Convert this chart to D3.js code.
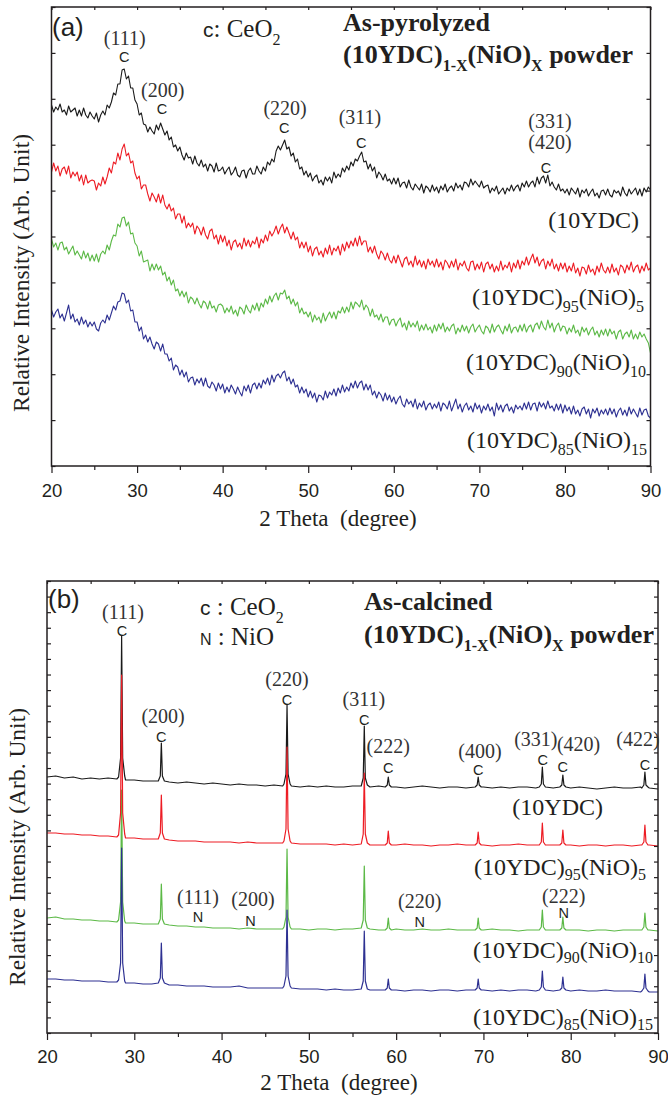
<!DOCTYPE html>
<html>
<head>
<meta charset="utf-8">
<script src="https://cdn.jsdelivr.net/npm/d3@7/dist/d3.min.js"></script>
<style>
  body { margin: 0; background: #fff; }
  svg { display: block; }
</style>
</head>
<body>
<svg id="chart" width="668" height="1098"></svg>
<script>
// ---------- (a) as-pyrolyzed: 2theta 20..90, step 0.25 deg (offset, arb. units) ----------
const pyroStart = 20, pyroStep = 0.25;

const pyro10YDC = [
  361,354,359,356,362,354,356,351,360,354,356,358,350,356,350,358,351,348,354,350,
  347,353,344,351,355,351,361,358,364,373,371,382,382,396,397,387,390,378,378,366,
  362,351,353,342,341,334,339,335,332,341,336,343,337,331,335,326,329,319,321,315,
  319,311,306,313,308,309,302,310,303,300,306,299,302,295,302,300,294,303,295,296,
  299,292,296,299,291,294,299,291,289,295,296,288,295,298,292,292,300,295,292,299,
  295,304,301,307,304,315,320,316,321,326,317,319,310,313,304,307,297,299,291,295,
  289,293,285,289,291,283,286,281,289,285,289,283,294,288,292,289,298,294,300,296,
  304,300,307,305,310,314,304,305,297,302,295,299,288,294,291,286,292,285,287,282,
  288,282,288,279,283,284,278,286,279,276,282,279,276,282,273,280,278,274,281,275,
  279,273,280,276,282,274,278,280,275,283,278,281,276,284,283,279,287,281,285,282,
  279,285,278,280,281,273,278,275,280,272,275,278,272,278,275,281,275,279,281,275,
  283,279,285,279,283,285,279,289,282,288,290,283,291,280,284,279,276,282,275,277,
  273,277,271,278,275,272,278,269,276,273,277,270,274,277,270,273,268,275,276,271,
  277,271,269,276,273,275,270,279,273,270,277,272,275,278,271,277,270,278,274,279,
  276
];
const pyroNiO5 = [
  294,303,295,300,290,297,299,292,300,288,294,290,294,285,291,281,291,283,285,286,
  285,276,283,280,289,282,289,298,293,304,302,313,306,317,322,310,313,303,305,293,
  287,290,277,281,281,272,265,273,269,264,272,263,271,261,257,262,255,258,247,252,
  252,243,250,238,243,239,243,232,240,237,231,239,231,227,235,237,227,231,222,231,
  224,230,220,226,216,224,226,219,223,217,228,220,226,219,225,222,229,218,227,223,
  231,225,235,230,234,240,232,238,242,233,239,233,227,234,226,229,218,224,218,224,
  214,220,210,217,219,211,215,209,218,212,221,211,218,215,220,211,222,215,224,218,
  225,220,228,220,230,221,225,225,214,219,213,220,212,207,215,212,206,213,206,203,
  210,203,211,205,199,207,209,201,205,199,210,201,206,199,205,197,207,201,205,199,
  207,199,204,196,206,203,198,205,199,207,196,203,200,205,198,195,204,205,196,202,
  197,204,194,202,204,197,202,194,200,195,205,196,201,198,204,194,203,198,206,197,
  205,201,209,201,207,212,203,209,200,205,207,197,205,200,207,197,202,195,203,197,
  203,194,200,195,203,193,198,190,199,198,192,201,194,197,191,200,194,203,196,193,
  199,193,202,194,198,191,201,199,193,201,196,204,194,199,201,193,200,195,203,196,
  198
];
const pyroNiO10 = [
  227,219,223,216,223,224,216,219,212,216,220,211,215,211,207,215,208,213,205,211,
  205,212,204,212,215,212,221,216,225,231,230,242,239,248,249,240,244,232,233,223,
  220,210,215,204,205,206,195,202,196,202,196,200,191,194,185,189,181,186,175,177,
  170,175,169,174,163,169,167,162,168,162,158,165,163,157,165,158,160,154,161,162,
  160,153,158,154,160,152,156,150,159,157,152,161,156,153,161,156,163,155,163,159,
  167,162,170,164,170,173,166,173,172,176,167,170,162,167,160,164,153,158,152,154,
  149,154,144,151,146,149,143,153,145,150,154,148,154,147,155,153,159,153,159,154,
  164,157,164,162,159,166,156,161,158,150,157,149,151,146,152,144,149,149,141,146,
  147,140,145,148,139,143,136,145,139,143,139,145,135,141,136,142,136,139,133,141,
  135,142,137,143,134,139,135,140,142,132,138,134,141,135,140,133,139,142,134,138,
  141,135,132,140,138,133,142,134,139,141,136,132,140,135,142,133,138,139,134,141,
  135,142,134,139,141,134,141,143,137,145,139,136,146,138,143,134,140,143,135,140,
  139,132,138,134,141,133,136,130,139,134,138,131,136,139,131,135,129,136,131,137,
  130,137,132,135,127,134,136,127,132,134,129,136,127,132,127,134,129,132,127,123,
  113
];
const pyroNiO15 = [
  156,149,154,157,148,152,145,153,161,147,152,144,147,141,149,142,146,139,144,140,
  144,137,135,143,146,143,151,146,153,160,156,164,165,173,172,163,166,155,156,144,
  144,135,139,127,131,124,129,122,117,124,122,115,122,112,112,105,108,96,101,99,
  91,96,89,94,84,88,89,81,87,83,88,80,88,80,78,84,81,75,83,77,
  82,73,79,74,81,77,72,79,74,70,80,75,81,73,81,83,77,83,78,86,
  82,88,81,91,84,90,92,88,93,95,85,89,82,87,79,81,73,79,73,77,
  69,75,68,73,64,71,70,66,75,68,74,71,77,70,78,73,81,74,79,75,
  83,78,85,78,83,85,76,82,76,81,71,75,68,74,71,65,73,66,71,64,
  69,62,67,70,62,59,67,62,65,59,67,57,63,59,65,56,61,63,57,62,
  58,64,55,63,61,57,65,55,61,67,57,62,54,60,63,56,60,54,63,57,
  61,53,60,56,62,55,59,50,63,56,61,54,60,62,55,59,53,61,57,60,
  56,63,57,64,56,62,63,55,64,59,63,57,65,58,60,55,62,56,62,53,
  61,55,59,52,60,52,56,50,57,59,52,57,48,57,53,58,50,56,52,57,
  51,58,52,57,49,55,58,51,56,50,59,52,57,53,49,58,51,56,57,50,
  48
];

// ---------- (b) as-calcined ----------
const calcTheta = [
  20,21,22,23,24,25,26,27,28, 28.2,28.43,28.55,28.67,28.9,
  29,30,31,32, 32.75,32.98,33.1,33.22,33.45,
  34,35,36,37,38,39,40,41,42,43,44,45,46,47, 47.15,47.38,47.5,47.62,47.85,
  48,49,50,51,52,53,54,55, 56,56.23,56.35,56.47,56.7,
  57,58, 58.75,58.98,59.1,59.22,59.45,
  60,61,62,63,64,65,66,67,68, 69.05,69.28,69.4,69.52,69.75,
  70,71,72,73,74,75,76, 76.4,76.63,76.75,76.87,77.1,
  78, 78.75,78.98,79.1,79.22,79.45,
  80,81,82,83,84,85,86,87,88, 88.15,88.38,88.5,88.62,88.85,
  89,90
];
const calc10YDC = [
  256,257,255,256,254,255,254,255,254, 256,275,397,275,257,
  253,253,252,252, 252,257,290,257,252,
  251,250,251,250,249,250,249,248,249,248,248,247,248,247, 249,259,328,259,249,
  247,246,247,246,247,246,246,247, 247,255,307,255,248,
  246,247, 246,248,256,248,246,
  246,245,246,247,246,245,246,246,245, 246,248,256,248,246,
  246,245,246,245,246,246,245, 246,249,266,249,246,
  245, 246,248,258,248,246,
  245,246,245,244,245,246,245,245,246, 245,248,261,248,246,
  245,244
];
const calcNiO5 = [
  200,200,199,199,198,198,197,197,196, 198,220,358,220,199,
  195,195,194,194, 194,200,238,200,194,
  193,192,192,192,191,191,191,191,190,191,190,190,190,190, 192,204,286,204,192,
  190,189,189,189,189,188,189,188, 189,199,260,199,190,
  188,188, 188,190,202,190,188,
  188,189,188,188,187,188,188,189,188, 188,190,201,190,188,
  188,187,188,188,189,188,188, 188,191,210,191,188,
  188, 188,190,203,190,188,
  188,187,188,188,187,188,188,187,188, 188,191,208,191,188,
  188,187
];
const calcNiO10 = [
  115,116,114,114,113,113,112,112,111, 113,131,243,131,112,
  110,110,109,109, 109,114,149,114,109,
  108,107,107,106,106,105,105,105,104,105,104,104,104,104, 106,116,184,116,106,
  104,104,103,104,104,103,104,104, 105,113,167,113,105,
  104,103, 103,105,115,105,103,
  104,103,103,104,103,103,104,103,103, 103,105,115,105,103,
  103,104,103,103,102,103,103, 103,106,123,106,103,
  103, 103,105,116,105,103,
  103,103,102,103,103,102,103,103,103, 103,106,120,106,103,
  103,102
];
const calcNiO15 = [
  54,54,53,53,52,52,52,51,51, 53,70,185,70,52,
  50,50,49,49, 50,55,90,55,50,
  48,48,47,47,47,46,46,46,47,45,45,45,45,45, 47,57,123,57,47,
  45,44,44,44,43,44,43,43, 44,52,102,52,44,
  43,43, 43,45,54,45,43,
  43,42,43,43,42,43,43,42,43, 43,45,54,45,43,
  43,42,43,42,43,43,42, 43,46,62,46,43,
  42, 43,45,56,45,43,
  42,43,42,42,43,42,42,42,41, 42,45,59,45,42,
  41,41
];

// sample names: strings are normal text, one-element arrays are subscripts
const sampleNames = [
  ['(10YDC)'],
  ['(10YDC)', ['95'], '(NiO)', ['5']],
  ['(10YDC)', ['90'], '(NiO)', ['10']],
  ['(10YDC)', ['85'], '(NiO)', ['15']]
];
const pyroHkl = ['(111)', '(200)', '(220)', '(311)', '(331)', '(420)'];
const calcHkl = ['(111)', '(200)', '(220)', '(311)', '(222)', '(400)', '(331)', '(420)', '(422)'];
const nioHkl = ['(111)', '(200)', '(220)', '(222)'];
const xTicks = [20, 30, 40, 50, 60, 70, 80, 90];

// ---------- drawing ----------
const ink = '#231f20';
const serif = "'Liberation Serif','Times New Roman',serif";
const sans = "'Liberation Sans',Arial,sans-serif";
const colors = ['#1a1a1a', '#ed1c24', '#5cb947', '#2e3192'];

const svg = d3.select('#chart');

function richText(g, x, y, parts, o) {
  const t = g.append('text')
    .attr('x', x).attr('y', y)
    .attr('font-family', o.family || serif)
    .attr('font-size', o.size)
    .attr('font-weight', o.weight || 'normal')
    .attr('text-anchor', o.anchor || 'start')
    .attr('fill', o.fill || ink)
    .style('white-space', 'pre');
  let shift = 0;
  parts.forEach(p => {
    const sub = Array.isArray(p);
    const txt = sub ? p[0] : (typeof p === 'object' ? p.t : p);
    const s = t.append('tspan').text(txt);
    const want = sub ? o.subShift : 0;
    if (want !== shift) { s.attr('dy', want - shift); shift = want; }
    if (sub) s.attr('font-size', o.subSize);
    if (typeof p === 'object' && !sub && p.family) s.attr('font-family', p.family).attr('font-size', p.size);
  });
  return t;
}

function drawAxes(g, x, y, yTicks, pad) {
  const [x0, x1] = x.range();
  const [yb, yt] = y.range();
  const tidy = sel => {
    sel.select('.domain').remove();
    sel.selectAll('line').attr('stroke', ink).attr('stroke-width', 1.2);
  };
  g.append('g').attr('transform', `translate(0,${yb})`)
    .call(d3.axisBottom(x).tickValues(xTicks).tickSize(7).tickPadding(pad).tickFormat(d3.format('d')))
    .call(tidy)
    .selectAll('text')
    .attr('font-family', sans).attr('font-size', 18.5).attr('fill', ink);
  g.append('g').attr('transform', `translate(0,${yb})`)
    .call(d3.axisBottom(x).tickValues(xTicks.slice(0, -1).map(v => v + 5)).tickSize(4).tickFormat(''))
    .call(tidy);
  g.append('g').attr('transform', `translate(0,${yt})`)
    .call(d3.axisTop(x).tickValues(d3.range(20, 91, 5)).tickSize(-3).tickFormat(''))
    .call(tidy);
  g.append('g').attr('transform', `translate(${x0},0)`)
    .call(d3.axisLeft(y).tickValues(yTicks).tickSize(-4).tickFormat(''))
    .call(tidy);
  g.append('g').attr('transform', `translate(${x1},0)`)
    .call(d3.axisRight(y).tickValues(yTicks).tickSize(-4).tickFormat(''))
    .call(tidy);
  g.append('rect')
    .attr('x', x0).attr('y', yt).attr('width', x1 - x0).attr('height', yb - yt)
    .attr('fill', 'none').attr('stroke', ink).attr('stroke-width', 1.5);
}

function axisTitles(g, cx, by, ty, tx) {
  g.append('text').attr('x', cx).attr('y', by)
    .attr('text-anchor', 'middle').attr('font-family', serif).attr('font-size', 23)
    .attr('fill', ink).style('white-space', 'pre')
    .text('2 Theta  (degree)');
  g.append('text').attr('transform', `translate(${tx},${ty}) rotate(-90)`)
    .attr('text-anchor', 'middle').attr('font-family', serif).attr('font-size', 23.5)
    .attr('fill', ink)
    .text('Relative Intensity (Arb. Unit)');
}

function hklLabel(g, x, y, txt) {
  g.append('text').attr('x', x).attr('y', y).attr('text-anchor', 'middle')
    .attr('font-family', serif).attr('font-size', 20).attr('fill', '#333')
    .text(txt);
}
function markLabel(g, x, y, txt) {
  g.append('text').attr('x', x).attr('y', y).attr('text-anchor', 'middle')
    .attr('font-family', sans).attr('font-size', 14.5).attr('fill', ink)
    .text(txt);
}

// ===== panel (a) =====
const gA = svg.append('g');
const xA = d3.scaleLinear().domain([20, 90]).range([51.5, 650.5]);
const yA = d3.scaleLinear().domain([0, 459]).range([466, 7]);
const yTicksA = d3.range(0, 11).map(i => i * 45.9);

const lineA = d3.line()
  .x((d, i) => xA(pyroStart + i * pyroStep))
  .y(d => yA(d));

[pyro10YDC, pyroNiO5, pyroNiO10, pyroNiO15].forEach((s, k) => {
  gA.append('path').datum(s)
    .attr('fill', 'none').attr('stroke', colors[k]).attr('stroke-width', 1.1)
    .attr('stroke-linejoin', 'round')
    .attr('d', lineA);
});

drawAxes(gA, xA, yA, yTicksA, 11);
axisTitles(gA, 338, 526, 273, 29);

// peak labels (a)
hklLabel(gA, xA(28.55), 45, pyroHkl[0]); markLabel(gA, xA(28.5), 62, 'C');
hklLabel(gA, xA(33.0), 97, pyroHkl[1]);  markLabel(gA, xA(32.9), 114, 'C');
hklLabel(gA, xA(47.3), 115, pyroHkl[2]); markLabel(gA, xA(47.2), 133, 'C');
hklLabel(gA, xA(56.05), 124, pyroHkl[3]); markLabel(gA, xA(56.2), 148, 'C');
hklLabel(gA, xA(78.25), 128, pyroHkl[4]);
hklLabel(gA, xA(78.25), 149, pyroHkl[5]); markLabel(gA, xA(77.8), 173, 'C');

gA.append('text').attr('x', 52).attr('y', 36).attr('font-family', sans).attr('font-size', 26)
  .attr('fill', ink).text('(a)');
richText(gA, 203, 37, [{ t: 'c', family: sans, size: 21 }, ': CeO', ['2']],
  { size: 25, subSize: 16, subShift: 8 });
richText(gA, 343, 31, ['As-pyrolyzed'], { size: 26, weight: 'bold' });
richText(gA, 343, 63, ['(10YDC)', ['1-X'], '(NiO)', ['X'], ' powder'],
  { size: 26, weight: 'bold', subSize: 16, subShift: 8 });

const sampleA = [[639, 228], [644, 305], [646, 370], [647, 448]];
sampleNames.forEach((p, k) => {
  richText(gA, sampleA[k][0], sampleA[k][1], p, { size: 24, subSize: 16, subShift: 7, anchor: 'end' });
});

// ===== panel (b) =====
const gB = svg.append('g');
const xB = d3.scaleLinear().domain([20, 90]).range([47, 658]);
const yB = d3.scaleLinear().domain([0, 452]).range([1033, 581]);
const yTicksB = d3.range(0, 30).map(i => i * 452 / 29);

const lineB = d3.line()
  .x((d, i) => xB(calcTheta[i]))
  .y(d => yB(d));

// drawing order black, green, red, blue as in the original
[[calc10YDC, 0], [calcNiO10, 2], [calcNiO5, 1], [calcNiO15, 3]].forEach(([s, k]) => {
  gB.append('path').datum(s)
    .attr('fill', 'none').attr('stroke', colors[k]).attr('stroke-width', 1.2)
    .attr('stroke-linejoin', 'round')
    .attr('d', lineB);
});

drawAxes(gB, xB, yB, yTicksB, 10);
axisTitles(gB, 339, 1090, 847, 25);

const calcLab = [
  [28.7, 619, 28.6, 636], [33.3, 723, 33.1, 742], [47.5, 686, 47.5, 705],
  [56.3, 706, 56.35, 725], [59.1, 753, 59.1, 773], [69.6, 758, 69.4, 775],
  [76.0, 746, 76.8, 765], [80.9, 751, 79.1, 772], [87.7, 746, 88.5, 770]
];
calcHkl.forEach((h, i) => {
  const [lt, ly, ct, cy] = calcLab[i];
  hklLabel(gB, xB(lt), ly, h);
  markLabel(gB, xB(ct), cy, 'C');
});
const nioLab = [[37.3, 904, 37.3, 922], [43.6, 906, 43.3, 926], [62.7, 908, 62.7, 927], [79.2, 903, 79.2, 918]];
nioHkl.forEach((h, i) => {
  const [lt, ly, ct, cy] = nioLab[i];
  hklLabel(gB, xB(lt), ly, h);
  markLabel(gB, xB(ct), cy, 'N');
});

gB.append('text').attr('x', 48).attr('y', 608).attr('font-family', sans).attr('font-size', 26)
  .attr('fill', ink).text('(b)');
richText(gB, 200, 615, [{ t: 'c', family: sans, size: 21 }, ' : CeO', ['2']],
  { size: 25, subSize: 16, subShift: 8 });
richText(gB, 200, 645, [{ t: 'N', family: sans, size: 16 }, ' : NiO'],
  { size: 25 });
richText(gB, 364, 610, ['As-calcined'], { size: 26, weight: 'bold' });
richText(gB, 364, 643, ['(10YDC)', ['1-X'], '(NiO)', ['X'], ' powder'],
  { size: 26, weight: 'bold', subSize: 16, subShift: 8 });

const sampleB = [[603, 815], [646, 875], [653, 958], [653, 1025]];
sampleNames.forEach((p, k) => {
  richText(gB, sampleB[k][0], sampleB[k][1], p, { size: 24, subSize: 16, subShift: 5, anchor: 'end' });
});
</script>
</body>
</html>
